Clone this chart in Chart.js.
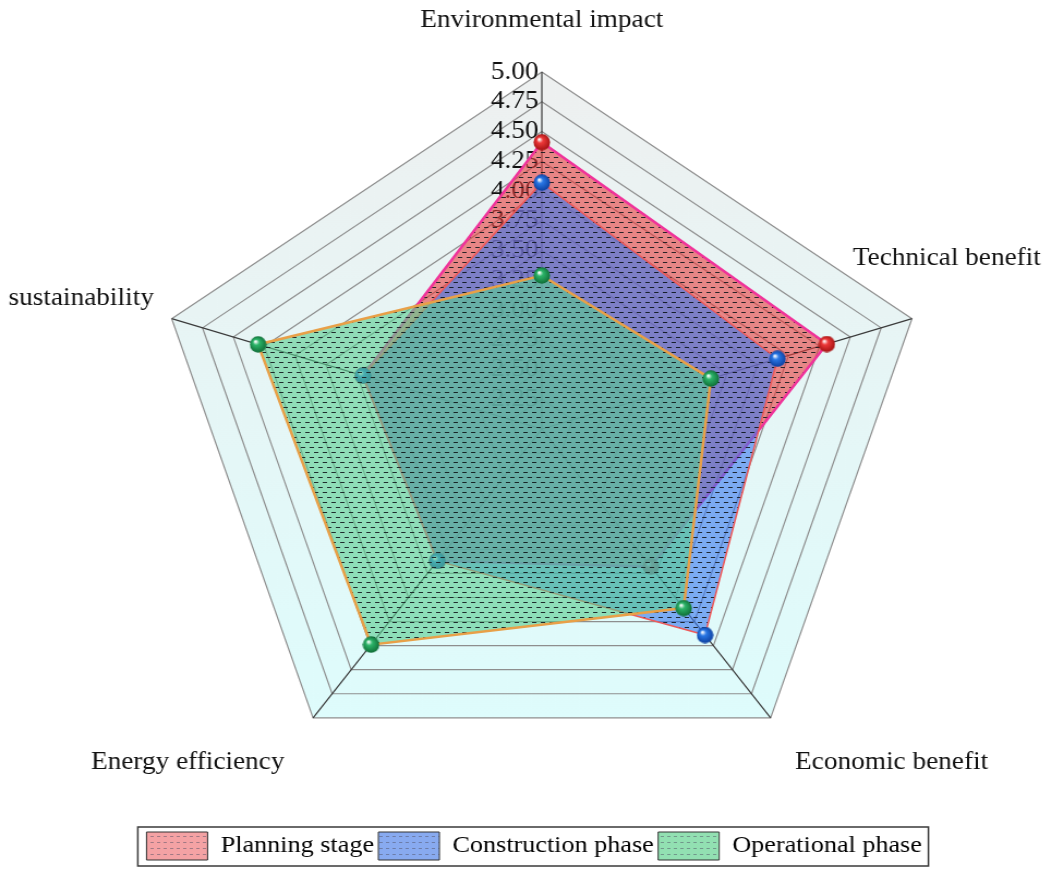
<!DOCTYPE html>
<html>
<head>
<meta charset="utf-8">
<script src="https://cdn.jsdelivr.net/npm/chart.js@4/dist/chart.umd.min.js"></script>
<style>
    html, body { margin: 0; padding: 0; background: #ffffff; }
    /* the reference is drawn slightly wider than tall, so stretch the canvas sideways */
    #wrap { width: 965px; height: 870px; transform: scaleX(1.0902); transform-origin: 0 0; }
</style>
</head>
<body>
<div id="wrap"><canvas id="radarChart" width="965" height="870"></canvas></div>
<script>
// Chart data
const categories = ['Environmental impact', 'Technical benefit', 'Economic benefit', 'Energy efficiency', 'sustainability'];
const seriesNames = ['Planning stage', 'Construction phase', 'Operational phase'];
const planningStage = [4.41, 4.31, 3.43, 3.37, 3.45];
const constructionPhase = [4.07, 3.91, 4.14, 3.37, 3.45];
const operationalPhase = [3.29, 3.37, 3.86, 4.24, 4.30];
const scaleMin = 2;
const scaleMax = 5;
const scaleStep = 0.25;

const serifFont = "'Liberation Serif', 'Times New Roman', serif";

const canvas = document.getElementById('radarChart');
const ctx = canvas.getContext('2d');

// Dashed hatch used on the filled areas
function hatchPattern(fill, dash) {
    const tile = document.createElement('canvas');
    tile.width = 8;
    tile.height = 10;
    const g = tile.getContext('2d');
    g.fillStyle = fill;
    g.fillRect(0, 0, 8, 10);
    g.fillStyle = dash;
    g.fillRect(0, 2, 4, 1);
    g.fillRect(4, 7, 4, 1);
    return ctx.createPattern(tile, 'repeat');
}

// Smaller, lighter hatch for the legend swatches
function legendPattern(fill) {
    const tile = document.createElement('canvas');
    tile.width = 6;
    tile.height = 6;
    const g = tile.getContext('2d');
    g.fillStyle = fill;
    g.fillRect(0, 0, 6, 6);
    g.fillStyle = 'rgba(80, 80, 100, 0.5)';
    g.fillRect(0, 2, 3, 1);
    return ctx.createPattern(tile, 'repeat');
}

// Shiny ball markers
function sphere(base, dark) {
    const c = document.createElement('canvas');
    c.width = 16;
    c.height = 17;
    const g = c.getContext('2d');
    const grad = g.createRadialGradient(5.5, 5.5, 0.5, 8, 8.5, 8.5);
    grad.addColorStop(0, '#ffffff');
    grad.addColorStop(0.3, base);
    grad.addColorStop(1, dark);
    g.fillStyle = grad;
    g.beginPath();
    g.ellipse(8, 8.5, 7.6, 8.2, 0, 0, Math.PI * 2);
    g.fill();
    return c;
}

// Light grey-to-cyan panel behind the web
const panelFill = ctx.createLinearGradient(0, 72, 0, 718);
panelFill.addColorStop(0, '#eef0f0');
panelFill.addColorStop(1, '#defcfc');

const legendFills = [legendPattern('#f4a2a4'), legendPattern('#88aaf0'), legendPattern('#92e0b2')];

// Radial scale with a fixed frame, labels placed around the corners like the reference
const labelOffsets = [[0, -52], [32, -60], [111, 45], [-115, 45], [-83, -20]];

class FramedRadialScale extends Chart.RadialLinearScale {
    fit() {
        super.fit();
        this.xCenter = 497;
        this.yCenter = 429;
        this.drawingArea = 357;
        if (this._pointLabelItems) {
            this._pointLabelItems = this._pointLabelItems.map((item, i) => {
                const p = this.getPointPosition(i, this.drawingArea);
                const h = item.bottom - item.top;
                const w = item.right - item.left;
                const cx = p.x + labelOffsets[i][0];
                const cy = p.y + labelOffsets[i][1];
                return Object.assign({}, item, {
                    x: cx, y: cy - h / 2, textAlign: 'center', visible: true,
                    left: cx - w / 2, right: cx + w / 2, top: cy - h / 2, bottom: cy + h / 2
                });
            });
        }
    }
    drawLabels() {
        // tick values sit just left of the top spoke
        this.ctx.save();
        this.ctx.translate(-25, 0);
        super.drawLabels();
        this.ctx.restore();
    }
}
FramedRadialScale.id = 'framedRadial';
FramedRadialScale.defaults = Chart.RadialLinearScale.defaults;
Chart.register(FramedRadialScale);

// Box round the legend
const legendFrame = {
    id: 'legendFrame',
    afterDraw(chart) {
        const boxes = chart.legend && chart.legend.legendHitBoxes;
        if (!boxes || !boxes.length) return;
        const left = Math.min(...boxes.map(b => b.left)) - 8;
        const right = Math.max(...boxes.map(b => b.left + b.width)) + 6;
        const top = boxes[0].top - 5;
        const bottom = boxes[0].top + boxes[0].height + 6;
        const c = chart.ctx;
        c.save();
        c.strokeStyle = '#3a3a3a';
        c.lineWidth = 1.5;
        c.strokeRect(left, top, right - left, bottom - top);
        c.restore();
    }
};

new Chart(ctx, {
    type: 'radar',
    data: {
        labels: categories,
        datasets: [{
            label: seriesNames[0],
            data: planningStage,
            backgroundColor: hatchPattern('rgba(230, 60, 60, 0.6)', 'rgba(20, 25, 30, 0.9)'),
            borderColor: '#f0339a',
            borderWidth: 2.5,
            pointStyle: sphere('#ee3a3a', '#a01010'),
            pointRadius: 8,
            fill: true,
            order: 2
        }, {
            label: seriesNames[1],
            data: constructionPhase,
            backgroundColor: hatchPattern('rgba(60, 123, 239, 0.62)', 'rgba(20, 25, 30, 0.9)'),
            borderColor: '#ee5a5a',
            borderWidth: 1.5,
            pointStyle: sphere('#2a78e6', '#0b3c9c'),
            pointRadius: 8,
            fill: true,
            order: 1
        }, {
            label: seriesNames[2],
            data: operationalPhase,
            backgroundColor: hatchPattern('rgba(90, 205, 145, 0.62)', 'rgba(20, 25, 30, 0.9)'),
            borderColor: '#e8a048',
            borderWidth: 2.5,
            pointStyle: sphere('#2db56a', '#0e6a34'),
            pointRadius: 8,
            fill: true,
            order: 0
        }]
    },
    options: {
        responsive: false,
        animation: false,
        layout: {
            padding: { left: 15, right: 0, top: 0, bottom: 0 }
        },
        elements: {
            line: { tension: 0 }
        },
        scales: {
            r: {
                type: 'framedRadial',
                min: scaleMin,
                max: scaleMax,
                backgroundColor: panelFill,
                ticks: {
                    stepSize: scaleStep,
                    showLabelBackdrop: false,
                    color: '#111111',
                    font: { family: serifFont, size: 25 },
                    callback: value => value.toFixed(2)
                },
                grid: {
                    color: '#8e8e8e',
                    lineWidth: 1.2
                },
                angleLines: {
                    color: '#3a3a3a',
                    lineWidth: 1.2
                },
                pointLabels: {
                    color: '#111111',
                    font: { family: serifFont, size: 25 }
                }
            }
        },
        plugins: {
            legend: {
                position: 'bottom',
                labels: {
                    color: '#000000',
                    font: { family: serifFont, size: 24 },
                    boxWidth: 56,
                    boxHeight: 28,
                    padding: 4,
                    sort: (a, b) => a.datasetIndex - b.datasetIndex,
                    generateLabels: chart => Chart.defaults.plugins.legend.labels.generateLabels(chart).map(item => Object.assign(item, {
                        fillStyle: legendFills[item.datasetIndex],
                        strokeStyle: '#333333',
                        lineWidth: 1
                    }))
                }
            },
            tooltip: { enabled: false }
        }
    },
    plugins: [legendFrame]
});
</script>
</body>
</html>
